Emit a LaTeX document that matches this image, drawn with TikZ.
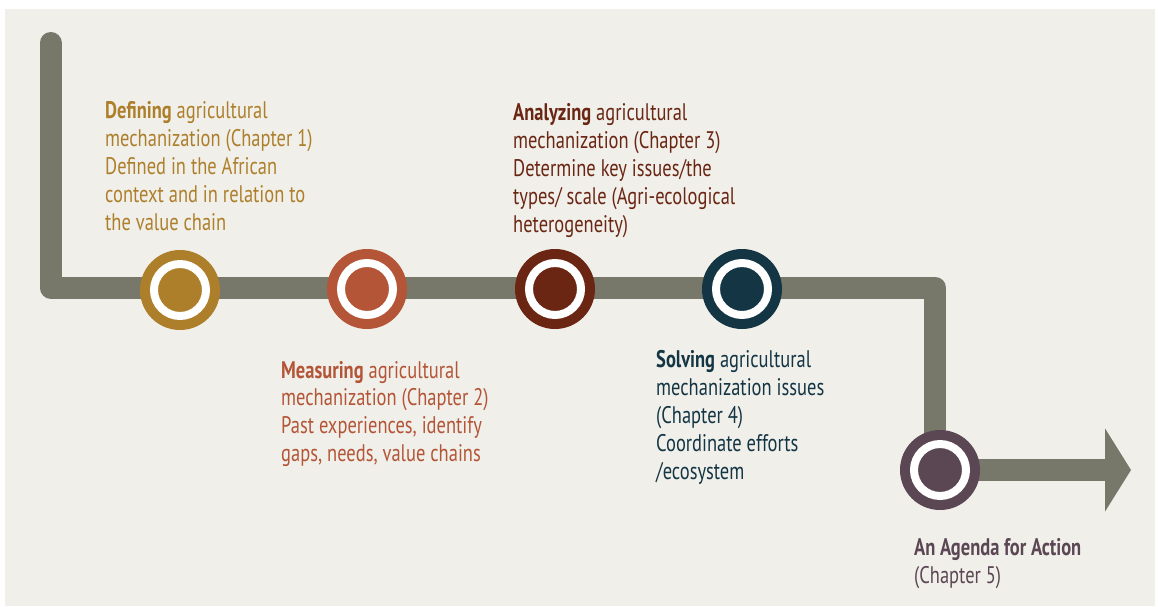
\documentclass[tikz,border=0pt]{standalone}
\usepackage{fontspec}
\setmainfont{PT Sans}[FakeStretch=0.77]
\usepackage{tikz}
\usetikzlibrary{arrows.meta,positioning}

\definecolor{bgcream}{HTML}{F0EFEA}
\definecolor{track}{HTML}{77776A}
\definecolor{gold}{HTML}{AE7F2B}
\definecolor{rust}{HTML}{B35536}
\definecolor{maroon}{HTML}{6A2613}
\definecolor{navy}{HTML}{133544}
\definecolor{plum}{HTML}{5B4653}

\tikzset{
  stage/.style={circle, fill=#1, minimum size=80pt, inner sep=0pt,
    path picture={\draw[white, line width=8pt] (path picture bounding box.center) circle (26pt);}},
  stagetext/.style={anchor=base west, align=left, inner sep=0pt, text=#1,
    font=\fontsize{24}{27.8}\selectfont}
}

\begin{document}
\begin{tikzpicture}[x=1pt,y=-1pt]
\useasboundingbox (0,0) rectangle (1158,607);
\fill[bgcream] (5,9) rectangle (1155,606);

% the track
\coordinate (start) at (50.5,43);
\coordinate (bendA) at (50.5,287.5);
\coordinate (bendB) at (935,287.5);
\coordinate (bendC) at (935,470);
\coordinate (finish) at (1131,470);
\draw[track, line width=22pt, line cap=round, line join=round, -{Triangle[length=26pt,width=82pt]}]
  (start) -- (bendA) -- (bendB) -- (bendC) -- (finish);

% the stages
\node[stage=gold] (define) at (180,290) {};
\node[stage=rust] (measure) at (367,289) {};
\node[stage=maroon] (analyze) at (555,289) {};
\node[stage=navy] (solve) at (742,289) {};
\node[stage=plum] (agenda) at (940,470) {};

% texts, anchored at the baseline of their last line
\node[stagetext=gold] (definetext) at (105,230) {\textbf{Defining} agricultural\\mechanization (Chapter 1)\\Defined in the African\\context and in relation to\\the value chain};
\node[stagetext=rust] (measuretext) at (281,461.5) {\textbf{Measuring} agricultural\\mechanization (Chapter 2)\\Past experiences, identify\\gaps, needs, value chains};
\node[stagetext=maroon] (analyzetext) at (513,232) {\textbf{Analyzing} agricultural\\mechanization (Chapter 3)\\Determine key issues/the\\types/ scale (Agri-ecological\\heterogeneity)};
\node[stagetext=navy] (solvetext) at (656,479) {\textbf{Solving} agricultural\\mechanization issues\\(Chapter 4)\\Coordinate efforts\\/ecosystem};
\node[stagetext=plum] (agendatext) at (914,583.5) {\textbf{An Agenda for Action}\\(Chapter 5)};
\end{tikzpicture}
\end{document}
